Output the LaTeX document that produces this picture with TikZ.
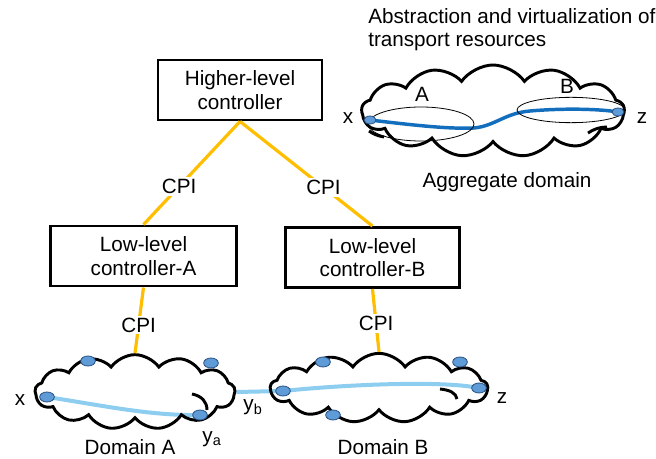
\documentclass[tikz,border=0pt]{standalone}
\usepackage{fontspec}
\setmainfont{Liberation Sans}
\usetikzlibrary{shapes.geometric,shapes.symbols,backgrounds}

\definecolor{cpiorange}{RGB}{255,190,0}
\definecolor{pathlight}{RGB}{140,205,240}
\definecolor{pathdark}{RGB}{20,110,190}
\definecolor{dotfill}{RGB}{95,155,215}
\definecolor{dotline}{RGB}{40,80,130}

\tikzset{
  ctrlbox/.style={draw, line width=2.2pt, align=center, inner sep=0pt, minimum height=45pt},
  cpi/.style={draw=cpiorange, line width=2.4pt},
  cpilabel/.style={fill=white, inner sep=1.5pt},
  domaincloud/.style={cloud, draw, line width=2.2pt, cloud puffs=13, cloud puff arc=110, inner sep=0pt},
  cloudline/.style={line width=2.2pt},
  dot/.style={ellipse, draw=dotline, fill=dotfill, line width=0.6pt, minimum width=11pt, minimum height=7.5pt, inner sep=0pt},
  smalldot/.style={dot, minimum width=9pt, minimum height=6pt},
  regionellipse/.style={ellipse, draw, line width=0.6pt, inner sep=0pt}
}

\begin{document}
\begin{tikzpicture}[x=0.75pt, y=-0.75pt, font=\fontsize{15.5}{17.5}\selectfont]
\useasboundingbox (0,0) rectangle (656,459);

% controllers
\node[ctrlbox, minimum width=123pt] (hl) at (240,90) {Higher-level\\controller};
\node[ctrlbox, minimum width=139pt] (la) at (143.5,256) {Low-level\\controller-A};
\node[ctrlbox, minimum width=130pt] (lb) at (372.5,257.5) {Low-level\\controller-B};

% domains
\node[domaincloud, minimum width=150pt, minimum height=56pt, aspect=2.7] (da) at (135,392) {};
\node[domaincloud, minimum width=163pt, minimum height=52pt, aspect=3.1] (db) at (379,388) {};
\node (daname) at (130,447) {Domain A};
\node (dbname) at (383,447) {Domain B};

\draw[cloudline] (192,394) .. controls (202,396) and (207,402) .. (207,410);
\draw[cloudline] (440,389) .. controls (450,390) and (456,393) .. (457,399);

% nodes of the domains
\node[dot] (xa) at (47,397) {};
\node[dot] (ya) at (200,415) {};
\node[dot] (na1) at (88,361) {};
\node[dot] (na2) at (211,363) {};
\node[dot] (xb) at (283,391) {};
\node[dot] (zb) at (479,388) {};
\node[dot] (nb1) at (323,362) {};
\node[dot] (nb2) at (460,362) {};
\node[dot] (nb3) at (333,415) {};

\node (xlabel) at (20,400) {x};
\node (yalabel) at (212,439) {y\textsubscript{a}};
\node (yblabel) at (253,407) {y\textsubscript{b}};
\node (zlabel) at (502,398) {z};

% control plane interfaces
\path (hl.south) edge[cpi] node[cpilabel, pos=0.63] {CPI} (la.north);
\path (hl.south) edge[cpi] node[cpilabel, pos=0.63] {CPI} (lb.north);
\path (la.south) edge[cpi] node[cpilabel, pos=0.57] {CPI} (da.north);
\path (lb.south) edge[cpi] node[cpilabel, pos=0.55] {CPI} (db.north);

% aggregate domain
\node[anchor=north west, align=left, inner sep=0pt] (title) at (368,8)
  {Abstraction and virtualization of\\transport resources};
\node[domaincloud, minimum width=197pt, minimum height=69pt, aspect=2.9] (agg) at (493,111) {};
\draw[cloudline] (369,131) .. controls (373,134) and (378,136) .. (384,137);
\draw[cloudline] (588,133) .. controls (594,129) and (600,127) .. (607,127);
\node[regionellipse, minimum width=79.5pt, minimum height=25.5pt] (ra) at (421,124) {};
\node[regionellipse, minimum width=81pt, minimum height=19pt] (rb) at (571,110) {};
\node (ralabel) at (422,94) {A};
\node (rblabel) at (567,86) {B};
\node[smalldot] (ax) at (370,120) {};
\node[smalldot] (az) at (618,112) {};
\node (axlabel) at (348,118) {x};
\node (azlabel) at (642,118) {z};
\node (aggname) at (507,182) {Aggregate domain};

% paths
\begin{pgfonlayer}{background}
\draw[pathlight, line width=3pt] (xa.center) .. controls (100,405) and (150,416) .. (ya.center);
\draw[pathlight, line width=3pt] (da.east) -- (xb.center);
\draw[pathlight, line width=3pt] (xb.center) .. controls (340,385) and (440,380) .. (zb.center);
\draw[pathdark, line width=2.6pt] (ax.center) .. controls (420,126) and (450,129) .. (474,128)
  .. controls (495,126) and (505,113) .. (530,111) .. controls (565,108) and (600,109) .. (az.center);
\end{pgfonlayer}

\end{tikzpicture}
\end{document}
